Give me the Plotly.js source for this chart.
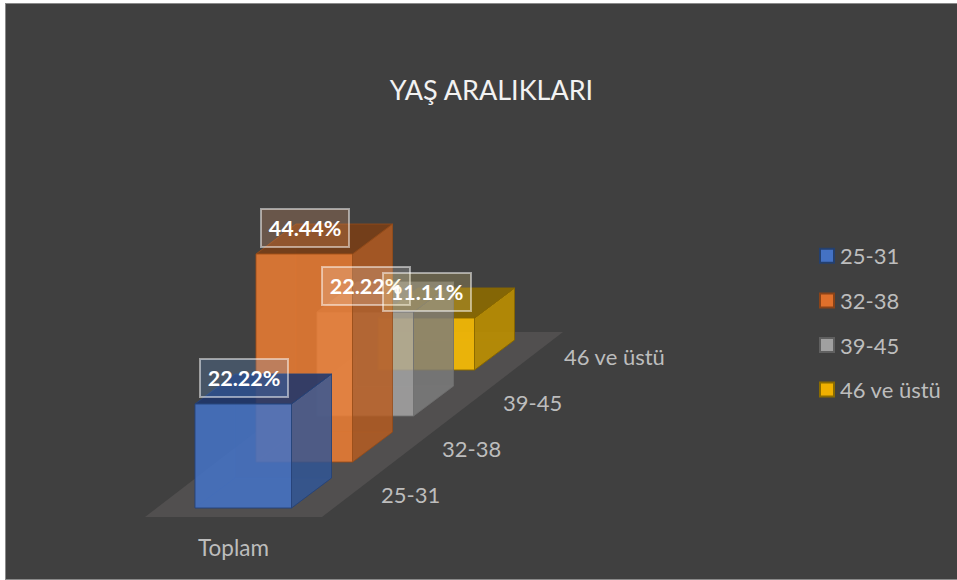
<!DOCTYPE html>
<html><head><meta charset="utf-8">
<script src="https://cdn.plot.ly/plotly-3.0.1.min.js"></script>
<style>
html,body{margin:0;padding:0;background:#fff;overflow:hidden}
#frame{position:absolute;left:5px;top:3px;width:952px;height:577px;border-top:1px solid #8a8a8a;border-left:1px solid #8a8a8a;box-sizing:border-box}
#chart{position:absolute;left:6px;top:4px;width:951px;height:576px}
#base{position:absolute;left:5px;top:579px;width:952px;height:1px;background:#8a8a8a;z-index:5}
</style></head><body><div id="frame"></div><div id="chart"></div><div id="base"></div>
<script>
const categories = ['25-31','32-38','39-45','46 ve üstü'];
const values = [22.22,44.44,22.22,11.11];
const groupLabel = 'Toplam';
const chartTitle = 'YAŞ ARALIKLARI';
const frontColors = ['rgba(68,114,196,0.88)','rgba(237,125,49,0.85)','rgba(165,165,165,0.85)','rgba(255,192,0,0.88)'];
const sideColors = ['rgba(47,85,151,0.82)','rgba(184,92,30,0.82)','rgba(124,124,124,0.82)','rgba(188,143,0,0.9)'];
const topColors = ['rgba(30,54,108,0.88)','rgba(125,62,20,0.85)','rgba(120,120,120,0.8)','rgba(140,106,0,0.9)'];
const edgeColors = ['rgba(38,66,120,0.9)','rgba(150,76,25,0.8)','rgba(110,110,110,0.8)','rgba(135,102,0,0.9)'];
const labelFills = ['rgba(100,170,255,0.2)','rgba(240,160,110,0.24)','rgba(255,255,255,0.18)','rgba(255,225,120,0.2)'];
const swatchFill = ['#4472C4','#E0702B','#A0A0A0','#EFB000'];
const swatchEdge = ['#24406F','#8A4318','#606060','#8A6B00'];

// Oblique projection of the 3-D chart: x in bar widths, y in percent
const W=951,H=576, BAR_PX=96.5, PCT_PX=4.68;
const X0=(195-6)/BAR_PX, Y0=(580-508)/PCT_PX;
const DEPTH_X=61/BAR_PX, DEPTH_Y=46/PCT_PX, SIDE_X=40/BAR_PX, SIDE_Y=30/PCT_PX;
const px=v=>v/BAR_PX, py=v=>v/PCT_PX;
const FONT='Lato, Carlito, sans-serif';

function poly(pts,fill,line,width){
  return {type:'scatter',mode:'lines',x:[...pts.map(p=>p[0]),pts[0][0]],y:[...pts.map(p=>p[1]),pts[0][1]],
    fill:'toself',fillcolor:fill,line:{color:line,width:width===undefined?1:width},showlegend:false,hoverinfo:'skip'};
}
const traces=[];
// floor
const n=categories.length;
const fl=[[px(-50),py(-9)],[px(127),py(-9)],[px(127)+n*DEPTH_X-px(3),py(-9)+n*DEPTH_Y+py(1)],[px(-50)+n*DEPTH_X-px(3),py(-9)+n*DEPTH_Y+py(1)]];
traces.push(poly(fl,'#514f4f','rgba(0,0,0,0)',0));
// bars back to front
for(let i=n-1;i>=0;i--){
  const x=i*DEPTH_X,b=i*DEPTH_Y,t=b+values[i],xr=x+1,sx=SIDE_X,sy=SIDE_Y;
  const faint='rgba(255,255,255,0.03)';
  traces.push(poly([[x,b],[x+sx,b+sy],[x+sx,t+sy],[x,t]],faint,edgeColors[i].replace(/[\d.]+\)$/,'0.25)')));
  traces.push(poly([[x,b],[xr,b],[xr+sx,b+sy],[x+sx,b+sy]],faint,edgeColors[i].replace(/[\d.]+\)$/,'0.25)')));
  traces.push(poly([[xr,b],[xr+sx,b+sy],[xr+sx,t+sy],[xr,t]],sideColors[i],edgeColors[i]));
  traces.push(poly([[x,t],[xr,t],[xr+sx,t+sy],[x+sx,t+sy]],topColors[i],edgeColors[i]));
  traces.push(poly([[x,b],[xr,b],[xr,t],[x,t]],frontColors[i],edgeColors[i]));
}
// legend entries
categories.forEach((c,i)=>traces.push({type:'scatter',mode:'markers',x:[null],y:[null],name:c,legendgroup:c,
  marker:{symbol:'square',size:14,color:swatchFill[i],line:{color:swatchEdge[i],width:2}},hoverinfo:'skip'}));

const annotations=[];
categories.forEach((c,i)=>annotations.push({x:px(378.5-195)+i*DEPTH_X,y:py(508-494)+i*DEPTH_Y,text:c,showarrow:false,
  xanchor:'left',yanchor:'middle',font:{family:FONT,size:22,color:'#bdbdbd'}}));
annotations.push({x:px(233.5-195),y:py(508-547),text:groupLabel,showarrow:false,xanchor:'center',yanchor:'middle',
  font:{family:FONT,size:22.5,color:'#bdbdbd'}});
values.forEach((v,i)=>annotations.push({x:i*DEPTH_X+0.5+px(1),y:i*DEPTH_Y+v+py(26),text:'<b>'+v.toFixed(2)+'%</b>',showarrow:false,
  xanchor:'center',yanchor:'middle',width:86,height:36,bgcolor:labelFills[i],bordercolor:'rgba(255,255,255,0.5)',borderwidth:2,borderpad:0,
  font:{family:FONT,size:21.5,color:'#ffffff'}}));

const layout={width:W,height:H,margin:{l:0,r:0,t:0,b:0},paper_bgcolor:'#404040',plot_bgcolor:'rgba(0,0,0,0)',
  title:{text:chartTitle,x:(491.5-6)/W,xanchor:'center',y:1-(91-4)/H,yanchor:'middle',font:{family:FONT,size:27,color:'#f2f2f2'}},
  xaxis:{range:[-X0,W/BAR_PX-X0],visible:false,fixedrange:true},
  yaxis:{range:[-Y0,H/PCT_PX-Y0],visible:false,fixedrange:true},
  showlegend:true,
  legend:{x:(800-6)/W,xanchor:'left',y:1-(235-4)/H,yanchor:'top',bgcolor:'rgba(0,0,0,0)',tracegroupgap:13,
    font:{family:FONT,size:22,color:'#bdbdbd'}},
  annotations};
Plotly.newPlot('chart',traces,layout,{displayModeBar:false,staticPlot:true}).then(()=>{
  document.querySelectorAll('.legend .legendsymbols').forEach(g=>g.setAttribute('transform','translate(7,0)'));
});
</script></body></html>
